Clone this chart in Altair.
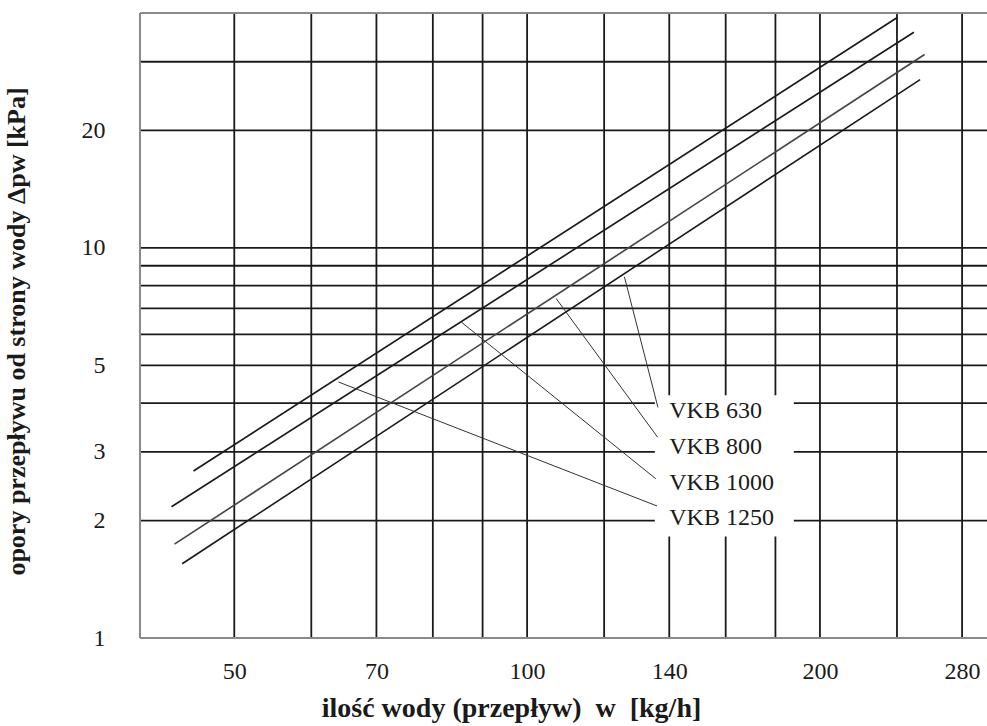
import altair as alt
import pandas as pd

# ---- axis values ----
x_domain = [40, 297]
y_domain = [1, 40]
x_tick_labels = [50, 70, 100, 140, 200, 280]
y_tick_labels = [1, 2, 3, 5, 10, 20]
x_grid = [50, 60, 70, 80, 90, 100, 120, 140, 160, 180, 200, 240, 280]
y_grid = [2, 3, 4, 5, 6, 7, 8, 9, 10, 20, 30]

# ---- series (straight lines on log-log paper) ----
series = ["VKB 1250", "VKB 1000", "VKB 800", "VKB 630"]
flow_start = [45.4, 43.1, 43.4, 44.2]
flow_end = [240.4, 249.8, 256.2, 253.5]
dp_start = [2.68, 2.17, 1.74, 1.55]
dp_end = [39.0, 35.7, 31.3, 27.0]

# ---- labels and leader lines ----
label_flow = [140, 140, 140, 140]
label_dp = [2.03, 2.50, 3.09, 3.82]
leader_flow_from = [64.0, 85.6, 107.1, 125.9]
leader_dp_from = [4.53, 6.45, 7.42, 8.43]
leader_flow_to = [136.0, 135.6, 136.2, 136.3]
leader_dp_to = [2.18, 2.56, 3.27, 3.90]

# label box (white area that interrupts the grid)
box_flow = [135.3, 188.0]
box_dp = [1.82, 4.19]

FONT = "Liberation Serif"
INK = "#1a1a1a"

xs = alt.Scale(type="log", domain=x_domain, nice=False, zero=False)
ys = alt.Scale(type="log", domain=y_domain, nice=False, zero=False)

x_axis = alt.Axis(
    values=x_tick_labels, format="d", grid=False, ticks=False, domain=False,
    labelFont=FONT, labelFontSize=24, labelColor=INK, labelPadding=21,
    labelFlush=False, labelOverlap=False,
    title="ilość wody (przepływ)\u00a0 w\u00a0 [kg/h]", titleFont=FONT,
    titleFontSize=28, titleFontWeight="bold", titleColor=INK,
    titleX=371, titleY=70, titleAlign="center", titleBaseline="middle",
)
y_axis = alt.Axis(
    values=y_tick_labels, format="d", grid=False, ticks=False, domain=False,
    labelFont=FONT, labelFontSize=24, labelColor=INK, labelPadding=35,
    labelFlush=False, labelOverlap=False,
    title="opory przepływu od strony wody Δpw [kPa]", titleFont=FONT,
    titleFontSize=26, titleFontWeight="bold", titleColor=INK,
    titleAngle=270, titleX=-124, titleY=318, titleAlign="center",
    titleBaseline="middle",
)


def X(field):
    return alt.X(field, scale=xs, axis=x_axis)


def Y(field):
    return alt.Y(field, scale=ys, axis=y_axis)


vgrid_df = pd.DataFrame({"x": x_grid})
hgrid_df = pd.DataFrame({"y": y_grid})

vgrid = alt.Chart(vgrid_df).mark_rule(color=INK, strokeWidth=1.8).encode(
    x=X("x:Q")
)
hgrid = alt.Chart(hgrid_df).mark_rule(color=INK, strokeWidth=1.8).encode(
    y=Y("y:Q")
)

frame_h = alt.Chart(pd.DataFrame({"y": y_domain})).mark_rule(
    color="#8a8a8a", strokeWidth=2
).encode(y=Y("y:Q"))
frame_v = alt.Chart(pd.DataFrame({"x": [x_domain[0]]})).mark_rule(
    color="#8a8a8a", strokeWidth=2
).encode(x=X("x:Q"))

box = alt.Chart(pd.DataFrame({
    "x": [box_flow[0]], "x2": [box_flow[1]], "y": [box_dp[0]], "y2": [box_dp[1]]
})).mark_rect(color="white").encode(
    x=X("x:Q"), x2="x2:Q",
    y=Y("y:Q"), y2="y2:Q",
)

rows = []
for i, s in enumerate(series):
    rows.append({"series": s, "x": flow_start[i], "y": dp_start[i], "o": 0})
    rows.append({"series": s, "x": flow_end[i], "y": dp_end[i], "o": 1})
lines_df = pd.DataFrame(rows)

lines = alt.Chart(lines_df).mark_line().encode(
    x=X("x:Q"),
    y=Y("y:Q"),
    detail="series:N",
    order="o:Q",
    color=alt.Color("series:N", scale=alt.Scale(domain=series,
                    range=[INK, INK, "#444444", INK]), legend=None),
    strokeWidth=alt.StrokeWidth("series:N", scale=alt.Scale(domain=series,
                    range=[1.7, 1.6, 1.1, 1.7]), legend=None),
)

leader_df = pd.DataFrame({
    "series": series,
    "x": leader_flow_from, "y": leader_dp_from,
    "x2": leader_flow_to, "y2": leader_dp_to,
})
leaders = alt.Chart(leader_df).mark_rule(color="#333333", strokeWidth=1).encode(
    x=X("x:Q"), x2="x2:Q",
    y=Y("y:Q"), y2="y2:Q",
)

label_df = pd.DataFrame({"series": series, "x": label_flow, "y": label_dp})
labels = alt.Chart(label_df).mark_text(
    align="left", baseline="middle", font=FONT, fontSize=24, color=INK
).encode(
    x=X("x:Q"),
    y=Y("y:Q"),
    text="series:N",
)

chart = alt.layer(
    vgrid, hgrid, frame_h, frame_v, box, lines, leaders, labels
).properties(
    width=847, height=625,
    autosize=alt.AutoSizeParams(type="none"),
    padding={"left": 140, "top": 13, "right": 0, "bottom": 88},
    background="white",
).configure_view(stroke=None)

chart.save("out.html", embed_options={"renderer": "svg", "actions": False})
